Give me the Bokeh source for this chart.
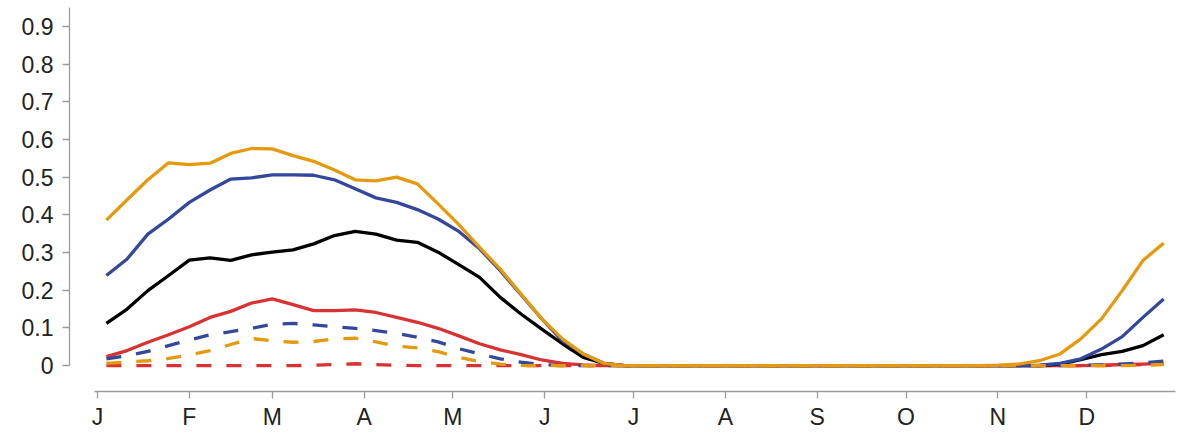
import numpy as np
from bokeh.plotting import figure
from bokeh.models import Range1d, FixedTicker
from bokeh.embed import file_html
from bokeh.resources import INLINE

# Month start (day of year) and axis letters
month_days = [0, 31, 59, 90, 120, 151, 181, 212, 243, 273, 304, 334]
month_labels = ["J", "F", "M", "A", "M", "J", "J", "A", "S", "O", "N", "D"]

y_ticks = [0, 0.1, 0.2, 0.3, 0.4, 0.5, 0.6, 0.7, 0.8, 0.9]
y_tick_labels = ["0", "0.1", "0.2", "0.3", "0.4", "0.5", "0.6", "0.7", "0.8", "0.9"]

# Weekly values, one per week of the year (52 weeks)
orange_solid = [0.386, 0.440, 0.493, 0.538, 0.533, 0.537, 0.563, 0.576, 0.575, 0.557,
                0.542, 0.519, 0.493, 0.490, 0.500, 0.482, 0.429, 0.374, 0.314, 0.256,
                0.190, 0.124, 0.071, 0.031, 0.006, 0, 0, 0, 0, 0,
                0, 0, 0, 0, 0, 0, 0, 0, 0, 0,
                0, 0, 0, 0.001, 0.004, 0.013, 0.031, 0.071, 0.124, 0.199,
                0.279, 0.325]
blue_solid = [0.239, 0.283, 0.349, 0.389, 0.433, 0.466, 0.495, 0.498, 0.506, 0.506,
              0.505, 0.493, 0.469, 0.445, 0.433, 0.414, 0.389, 0.356, 0.310, 0.252,
              0.188, 0.124, 0.066, 0.031, 0.006, 0, 0, 0, 0, 0,
              0, 0, 0, 0, 0, 0, 0, 0, 0, 0,
              0, 0, 0, 0, 0, 0.001, 0.006, 0.018, 0.044, 0.077,
              0.128, 0.177]
black_solid = [0.112, 0.150, 0.199, 0.239, 0.280, 0.286, 0.279, 0.294, 0.301, 0.307,
               0.323, 0.345, 0.356, 0.349, 0.333, 0.327, 0.301, 0.268, 0.234, 0.181,
               0.137, 0.097, 0.058, 0.022, 0.006, 0, 0, 0, 0, 0,
               0, 0, 0, 0, 0, 0, 0, 0, 0, 0,
               0, 0, 0, 0, 0, 0, 0.004, 0.016, 0.029, 0.038,
               0.053, 0.082]
red_solid = [0.024, 0.040, 0.062, 0.082, 0.103, 0.128, 0.144, 0.166, 0.177, 0.162,
             0.146, 0.146, 0.148, 0.141, 0.128, 0.115, 0.099, 0.079, 0.058, 0.042,
             0.029, 0.015, 0.006, 0.002, 0, 0, 0, 0, 0, 0,
             0, 0, 0, 0, 0, 0, 0, 0, 0, 0,
             0, 0, 0, 0, 0, 0, 0, 0, 0.001, 0.003,
             0.004, 0.006]
blue_dashed = [0.018, 0.026, 0.038, 0.053, 0.068, 0.082, 0.090, 0.099, 0.110, 0.112,
               0.108, 0.103, 0.099, 0.093, 0.086, 0.075, 0.063, 0.045, 0.031, 0.018,
               0.009, 0.003, 0, 0, 0, 0, 0, 0, 0, 0,
               0, 0, 0, 0, 0, 0, 0, 0, 0, 0,
               0, 0, 0, 0, 0, 0, 0, 0.001, 0.002, 0.004,
               0.007, 0.012]
orange_dashed = [0.006, 0.010, 0.013, 0.019, 0.028, 0.040, 0.056, 0.072, 0.066, 0.062,
                 0.064, 0.071, 0.073, 0.063, 0.052, 0.047, 0.037, 0.022, 0.011, 0.004,
                 0.001, 0, 0, 0, 0, 0, 0, 0, 0, 0,
                 0, 0, 0, 0, 0, 0, 0, 0, 0, 0,
                 0, 0, 0, 0, 0, 0, 0, 0, 0, 0,
                 0.001, 0.003]
red_dashed = [0, 0, 0, 0, 0, 0, 0, 0, 0, 0,
              0.001, 0.003, 0.005, 0.003, 0.001, 0, 0, 0, 0, 0,
              0, 0, 0, 0, 0, 0, 0, 0, 0, 0,
              0, 0, 0, 0, 0, 0, 0, 0, 0, 0,
              0, 0, 0, 0, 0, 0, 0, 0, 0, 0.001,
              0.003, 0.004]

# mid-week day of year for each weekly value
week_day = 3 + 7 * np.arange(len(orange_solid))

ORANGE = "#E59A0E"
BLUE = "#33479C"
RED = "#D93232"
BLACK = "#000000"
AXIS_GREY = "#9c9c9c"
LABEL = "#222222"
FONT = "Liberation Sans"

p = figure(width=1184, height=433, output_backend="svg", toolbar_location=None,
           x_range=Range1d(-9.46, 365.0), y_range=Range1d(-0.0686, 0.95),
           min_border_left=69, min_border_right=6, min_border_top=7,
           min_border_bottom=42)
p.outline_line_color = None
p.xgrid.grid_line_color = None
p.ygrid.grid_line_color = None
p.background_fill_color = "white"
p.border_fill_color = "white"

series = [
    (red_dashed, RED, "15 15"),
    (red_solid, RED, "solid"),
    (black_solid, BLACK, "solid"),
    (blue_solid, BLUE, "solid"),
    (blue_dashed, BLUE, "15 15"),
    (orange_dashed, ORANGE, "15 15"),
    (orange_solid, ORANGE, "solid"),
]
for vals, col, dash in series:
    p.line(week_day, vals, line_color=col, line_width=3.3, line_dash=dash,
           line_join="round")

for ax in (p.xaxis[0], p.yaxis[0]):
    ax.axis_line_color = AXIS_GREY
    ax.axis_line_width = 1.3
    ax.major_tick_line_color = AXIS_GREY
    ax.major_tick_line_width = 1.3
    ax.major_tick_in = 0
    ax.major_tick_out = 7
    ax.minor_tick_line_color = None
    ax.major_label_text_font = FONT
    ax.major_label_text_font_size = "23px"
    ax.major_label_text_color = LABEL

xa = p.xaxis[0]
xa.ticker = FixedTicker(ticks=month_days)
xa.major_label_overrides = dict(zip(month_days, month_labels))
xa.bounds = (-1, 364)
xa.major_label_standoff = 5

ya = p.yaxis[0]
ya.ticker = FixedTicker(ticks=y_ticks)
ya.major_label_overrides = dict(zip(y_ticks, y_tick_labels))
ya.bounds = (0, 0.95)
ya.major_label_standoff = 9

open("out.html", "w").write(file_html(p, INLINE))
